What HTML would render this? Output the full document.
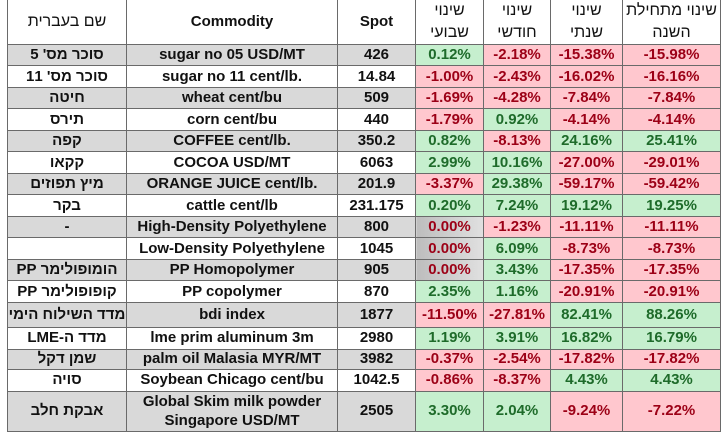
<!DOCTYPE html>
<html><head><meta charset="utf-8"><style>
body{margin:0;width:725px;height:435px;background:#fff;overflow:hidden;font-family:"Liberation Sans","Noto Sans CJK SC",sans-serif;}
table{position:absolute;left:7px;top:0;border-collapse:collapse;table-layout:fixed;}
td{border:1px solid #6a6a6a;padding:0;text-align:center;font-weight:bold;font-size:15px;color:#111;white-space:nowrap;overflow:hidden;line-height:1.15;}
tr.h td{border-top:none;font-size:15px;}
tr.h td.hb{font-size:16px;line-height:1.35;font-weight:normal;}
.g td.l{background:#d9d9d9;}
td.p{background:#c6efce;color:#1e6b2a;}
td.n{background:#ffc7ce;color:#9c0016;}
td.z{background:linear-gradient(90deg,#bdbdbd,#e0e0e0);color:#9c0016;}
td.hb{direction:rtl;font-size:15px;}
</style></head><body>
<table>
<colgroup><col style="width:119px"><col style="width:211px"><col style="width:78px"><col style="width:68px"><col style="width:67px"><col style="width:72px"><col style="width:98px"></colgroup>
<tr class="h" style="height:44px"><td class="hb">שם בעברית</td><td>Commodity</td><td>Spot</td><td class="hb">שינוי<br>שבועי</td><td class="hb">שינוי<br>חודשי</td><td class="hb">שינוי<br>שנתי</td><td class="hb">שינוי מתחילת<br>השנה</td></tr>
<tr class="g" style="height:21.5px"><td class="l hb">סוכר מס' 5</td><td class="l">sugar no 05 USD/MT</td><td class="l">426</td><td class="p">0.12%</td><td class="n">-2.18%</td><td class="n">-15.38%</td><td class="n">-15.98%</td></tr>
<tr style="height:21.5px"><td class="l hb">סוכר מס' 11</td><td class="l">sugar no 11 cent/lb.</td><td class="l">14.84</td><td class="n">-1.00%</td><td class="n">-2.43%</td><td class="n">-16.02%</td><td class="n">-16.16%</td></tr>
<tr class="g" style="height:21.5px"><td class="l hb">חיטה</td><td class="l">wheat cent/bu</td><td class="l">509</td><td class="n">-1.69%</td><td class="n">-4.28%</td><td class="n">-7.84%</td><td class="n">-7.84%</td></tr>
<tr style="height:21.5px"><td class="l hb">תירס</td><td class="l">corn cent/bu</td><td class="l">440</td><td class="n">-1.79%</td><td class="p">0.92%</td><td class="n">-4.14%</td><td class="n">-4.14%</td></tr>
<tr class="g" style="height:21.5px"><td class="l hb">קפה</td><td class="l">COFFEE cent/lb.</td><td class="l">350.2</td><td class="p">0.82%</td><td class="n">-8.13%</td><td class="p">24.16%</td><td class="p">25.41%</td></tr>
<tr style="height:21.5px"><td class="l hb">קקאו</td><td class="l">COCOA USD/MT</td><td class="l">6063</td><td class="p">2.99%</td><td class="p">10.16%</td><td class="n">-27.00%</td><td class="n">-29.01%</td></tr>
<tr class="g" style="height:21.5px"><td class="l hb">מיץ תפוזים</td><td class="l">ORANGE JUICE cent/lb.</td><td class="l">201.9</td><td class="n">-3.37%</td><td class="p">29.38%</td><td class="n">-59.17%</td><td class="n">-59.42%</td></tr>
<tr style="height:21.5px"><td class="l hb">בקר</td><td class="l">cattle cent/lb</td><td class="l">231.175</td><td class="p">0.20%</td><td class="p">7.24%</td><td class="p">19.12%</td><td class="p">19.25%</td></tr>
<tr class="g" style="height:21.5px"><td class="l">-</td><td class="l">High-Density Polyethylene</td><td class="l">800</td><td class="z">0.00%</td><td class="n">-1.23%</td><td class="n">-11.11%</td><td class="n">-11.11%</td></tr>
<tr style="height:21.5px"><td class="l"></td><td class="l">Low-Density Polyethylene</td><td class="l">1045</td><td class="z">0.00%</td><td class="p">6.09%</td><td class="n">-8.73%</td><td class="n">-8.73%</td></tr>
<tr class="g" style="height:21.5px"><td class="l hb">הומופולימר PP</td><td class="l">PP Homopolymer</td><td class="l">905</td><td class="z">0.00%</td><td class="p">3.43%</td><td class="n">-17.35%</td><td class="n">-17.35%</td></tr>
<tr style="height:21.5px"><td class="l hb">קופופולימר PP</td><td class="l">PP copolymer</td><td class="l">870</td><td class="p">2.35%</td><td class="p">1.16%</td><td class="n">-20.91%</td><td class="n">-20.91%</td></tr>
<tr class="g" style="height:25px"><td class="l hb">מדד השילוח הימי</td><td class="l">bdi index</td><td class="l">1877</td><td class="n">-11.50%</td><td class="n">-27.81%</td><td class="p">82.41%</td><td class="p">88.26%</td></tr>
<tr style="height:22px"><td class="l hb">מדד ה-LME</td><td class="l">lme prim aluminum 3m</td><td class="l">2980</td><td class="p">1.19%</td><td class="p">3.91%</td><td class="p">16.82%</td><td class="p">16.79%</td></tr>
<tr class="g" style="height:20px"><td class="l hb">שמן דקל</td><td class="l">palm oil Malasia MYR/MT</td><td class="l">3982</td><td class="n">-0.37%</td><td class="n">-2.54%</td><td class="n">-17.82%</td><td class="n">-17.82%</td></tr>
<tr style="height:22px"><td class="l hb">סויה</td><td class="l">Soybean Chicago cent/bu</td><td class="l">1042.5</td><td class="n">-0.86%</td><td class="n">-8.37%</td><td class="p">4.43%</td><td class="p">4.43%</td></tr>
<tr class="g" style="height:40px"><td class="l hb">אבקת חלב</td><td class="l" style="line-height:1.3">Global Skim milk powder<br>Singapore USD/MT</td><td class="l">2505</td><td class="p">3.30%</td><td class="p">2.04%</td><td class="n">-9.24%</td><td class="n">-7.22%</td></tr>
</table>
</body></html>
